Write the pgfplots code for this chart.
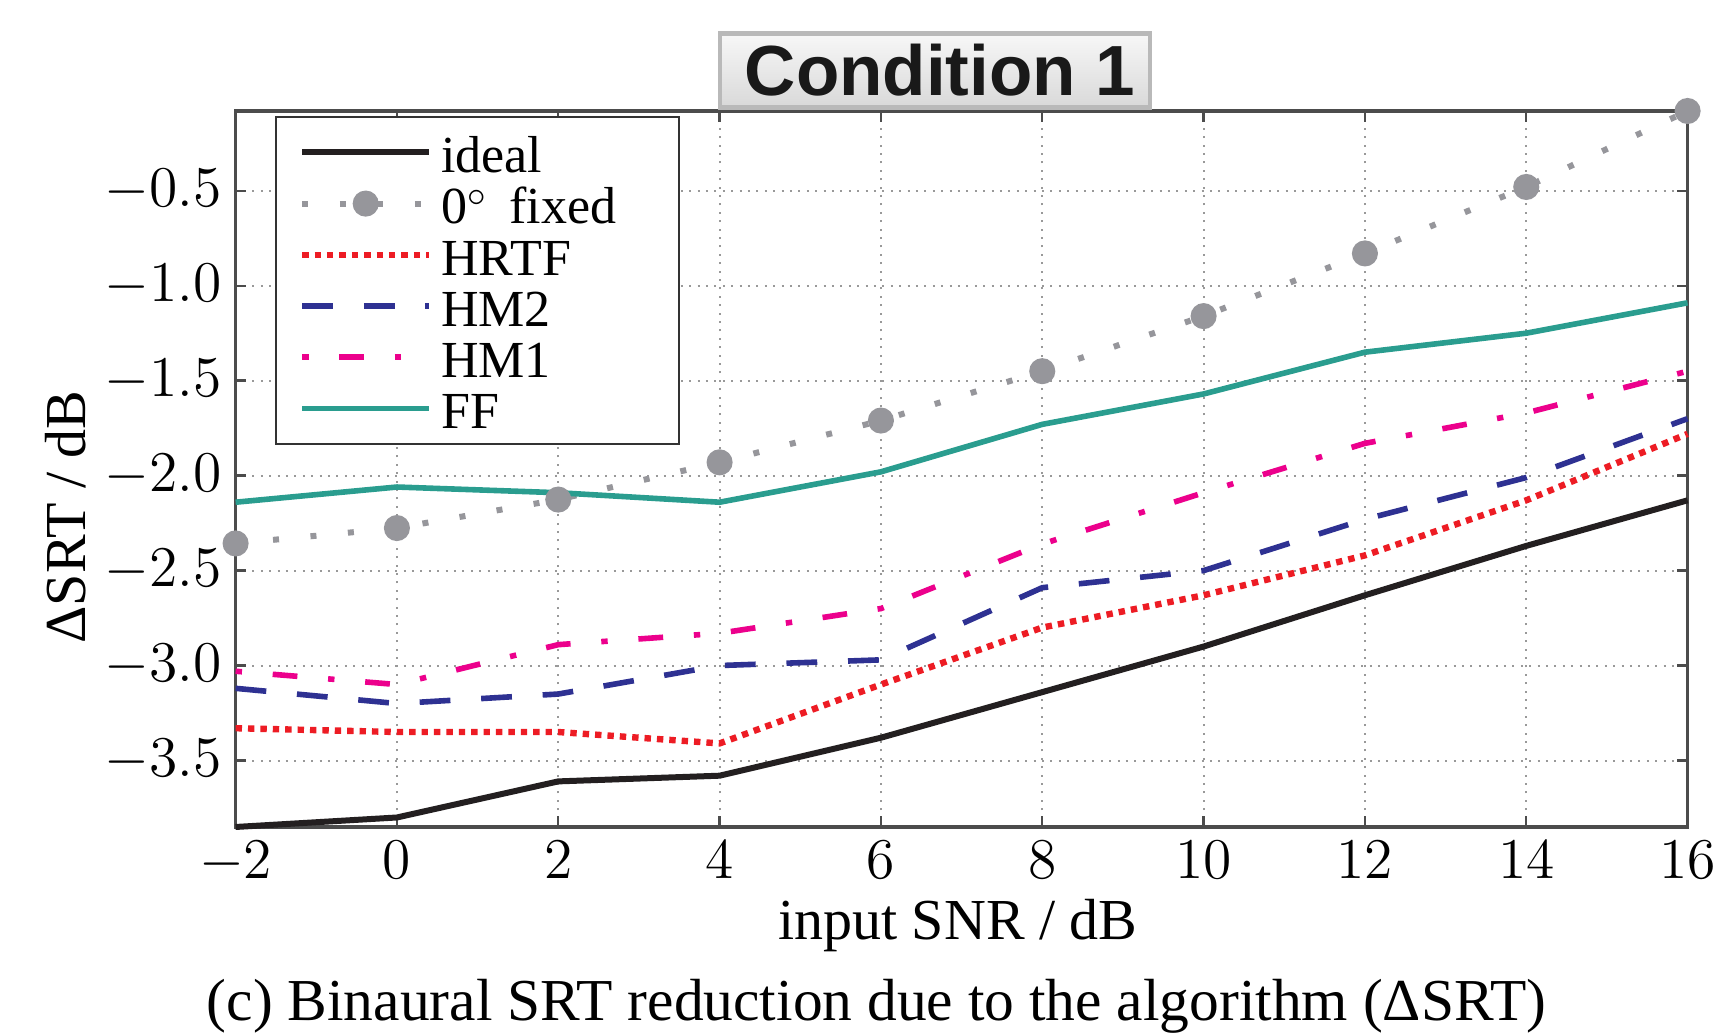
\documentclass[border=0pt]{standalone}
\usepackage[no-math]{fontspec}
\setmainfont{Liberation Serif}
\newfontfamily\titlefont{Liberation Sans}
\usepackage{pgfplots}
\pgfplotsset{compat=1.18}
\definecolor{cIdeal}{RGB}{35,31,32}
\definecolor{cFixed}{RGB}{150,150,155}
\definecolor{cHRTF}{RGB}{237,28,36}
\definecolor{cHM2}{RGB}{46,49,146}
\definecolor{cHM1}{RGB}{236,0,140}
\definecolor{cFF}{RGB}{42,157,143}
\newcommand{\legtxt}[1]{\raisebox{-1.9pt}{#1}}
\begin{document}
\begin{tikzpicture}
\begin{axis}[name=ax, scale only axis, width=363pt, height=179pt,
  xmin=-2, xmax=16, ymin=-3.85, ymax=-0.08,
  xtick={-2,0,2,4,6,8,10,12,14,16},
  ytick={-3.5,-3.0,-2.5,-2.0,-1.5,-1.0,-0.5},
  yticklabel style={/pgf/number format/.cd, fixed, fixed zerofill, precision=1},
  tick label style={font=\fontsize{15.3}{17}\selectfont},
  tick align=inside, xtick pos=both, ytick pos=both, major tick length=2.7pt,
  axis line style={black!70, line width=0.8pt},
  every tick/.style={black!70, line width=0.6pt},
  grid=major, major grid style={gray!80, line width=0.5pt, dash pattern=on 0.5pt off 1.6pt},
  clip=false,
  label style={font=\fontsize{14.5}{17}\selectfont},
  xlabel={input SNR / dB},
  xlabel style={at={(axis description cs:0.4975,-0.1383)}, anchor=center},
  ylabel={ΔSRT / dB},
  ylabel style={at={(axis description cs:-0.1168,0.433)}, anchor=center},
  legend style={at={(axis description cs:0,1)}, anchor=north west, xshift=9.85pt, yshift=-1.3pt,
    draw=black!80, line width=0.5pt, fill=white, inner xsep=5.75pt, inner ysep=2.4pt,
    font=\fontsize{13}{15}\selectfont,
    nodes={inner sep=0pt, text height=9.6pt, text depth=3.2pt},
    /tikz/column sep=2.2pt},
  legend cell align=left,
  legend image code/.code={\draw[mark repeat=2, mark phase=2, #1] plot coordinates {(0pt,0pt) (15.875pt,0pt) (31.75pt,0pt)};},
]
\addplot[cIdeal, line width=1.5pt] coordinates {(-2,-3.85) (0,-3.80) (2,-3.61) (4,-3.58) (6,-3.38) (8,-3.14) (10,-2.90) (12,-2.63) (14,-2.37) (16,-2.13)};
\addlegendentry{\legtxt{ideal}}
\addplot[cFixed, line width=1.5pt, dash pattern=on 1.5pt off 7.9pt, mark=*, mark size=2.5pt, mark options={solid, fill=cFixed, draw=cFixed}] coordinates {(-2,-2.357) (0,-2.276) (2,-2.126) (4,-1.93) (6,-1.71) (8,-1.45) (10,-1.16) (12,-0.83) (14,-0.48) (16,-0.08)};
\addlegendentry{\legtxt{0$^\circ$\, fixed}\hspace*{10pt}}
\addplot[cHRTF, line width=1.6pt, dash pattern=on 1.6pt off 1.5pt] coordinates {(-2,-3.33) (0,-3.35) (2,-3.35) (4,-3.41) (6,-3.10) (8,-2.80) (10,-2.63) (12,-2.42) (14,-2.13) (16,-1.78)};
\addlegendentry{\legtxt{HRTF}}
\addplot[cHM2, line width=1.4pt, dash pattern=on 7.7pt off 7.7pt] coordinates {(-2,-3.12) (0,-3.20) (2,-3.15) (4,-3.00) (6,-2.97) (8,-2.59) (10,-2.50) (12,-2.23) (14,-2.01) (16,-1.70)};
\addlegendentry{\legtxt{HM2}}
\addplot[cHM1, line width=1.4pt, dash pattern=on 1.6pt off 7.7pt on 6.2pt off 7.7pt] coordinates {(-2,-3.03) (0,-3.10) (2,-2.89) (4,-2.83) (6,-2.70) (8,-2.36) (10,-2.09) (12,-1.83) (14,-1.67) (16,-1.45)};
\addlegendentry{\legtxt{HM1}}
\addplot[cFF, line width=1.4pt] coordinates {(-2,-2.14) (0,-2.06) (2,-2.09) (4,-2.14) (6,-1.98) (8,-1.73) (10,-1.57) (12,-1.35) (14,-1.25) (16,-1.09)};
\addlegendentry{\legtxt{FF}}
\end{axis}
\node[draw=gray!55, line width=1.2pt, top color=gray!6, bottom color=gray!30, minimum width=107.5pt, minimum height=18.5pt, inner sep=0pt, text=black!90, font=\titlefont\bfseries\fontsize{17.75}{19}\selectfont] at ([xshift=174.85pt, yshift=10.2pt]ax.north west) {\hspace*{2.5pt}Condition 1};
\node[font=\fontsize{14.87}{17}\selectfont] at ([xshift=160.25pt, yshift=-44.75pt]ax.south west) {(c) Binaural SRT reduction due to the algorithm (ΔSRT)};
\pgfresetboundingbox
\path ([xshift=-58.9pt, yshift=-51.75pt]ax.south west) rectangle ++(429.5pt,258.5pt);
\end{tikzpicture}
\end{document}
